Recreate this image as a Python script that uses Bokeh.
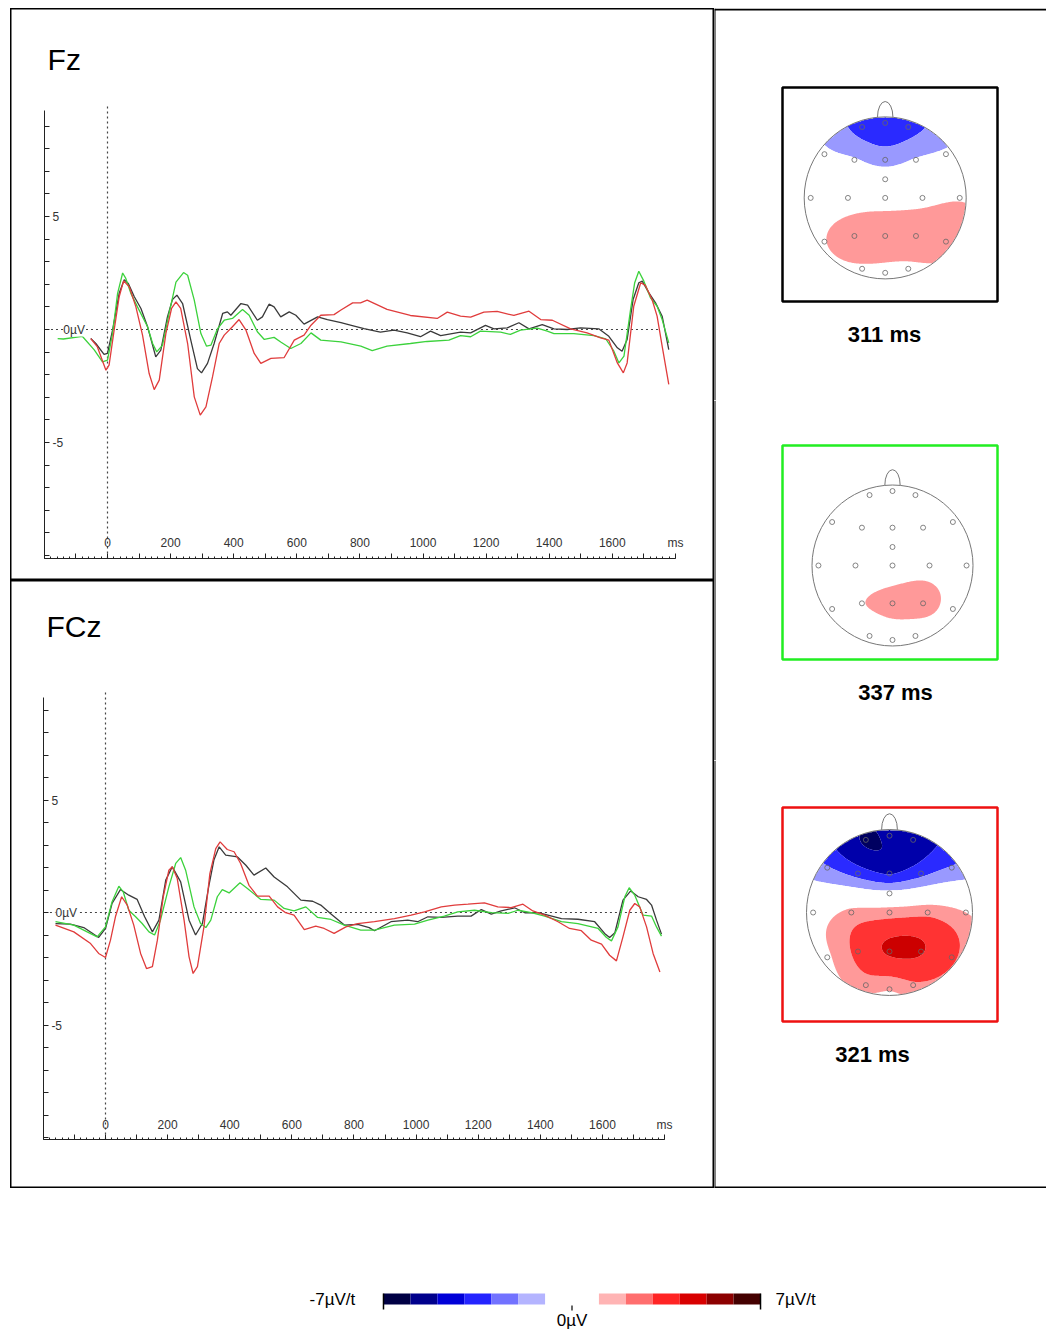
import numpy as np
from bokeh.plotting import figure
from bokeh.models import LinearAxis, FixedTicker, Range1d, Label, Span, Spacer
from bokeh.layouts import column, row
from bokeh.embed import file_html
from bokeh.resources import INLINE
from bokeh.core.properties import value

FONT = "Liberation Sans"

# ---------------- ERP data (time in ms, amplitude in microvolts) ----------------
panel_names = ["Fz", "FCz"]

fz_green_t = [-158, -140, -80, -42, -16, 0, 16, 32, 48, 58, 74, 95, 127, 143, 156, 174, 195, 217, 241, 254, 275,
              296, 314, 328, 349, 370, 396, 428, 449, 475, 497, 528, 549, 581, 613, 645, 676, 740, 803, 839,
              886, 960, 1013, 1082, 1119, 1151, 1182, 1246, 1277, 1309, 1362, 1394, 1415, 1478, 1542, 1579,
              1605, 1621, 1637, 1658, 1671, 1684, 1700, 1721, 1742, 1758, 1779]
fz_green_v = [-0.4, -0.42, -0.3, -0.9, -1.43, -1.36, -0.18, 1.6, 2.5, 2.26, 1.6, 1.0, 0.12, -0.62, -0.99, -0.7, 0.7,
              2.1, 2.52, 2.4, 1.3, -0.18, -0.74, -0.69, 0.04, 0.41, 0.49, 0.88, 0.63, -0.1, -0.44, -0.35, -0.55,
              -0.84, -0.62, -0.15, -0.47, -0.55, -0.74, -0.93,
              -0.74, -0.62, -0.53, -0.47, -0.27, -0.32, -0.07, -0.12, -0.22, -0.03, 0.06, -0.07, -0.18, -0.18,
              -0.27, -0.41, -0.96, -1.48, -1.18, 0.89, 2.07, 2.58, 2.14, 1.4, 1.03, 0.44, -0.59]

fz_black_t = [-53, -37, -11, 0, 16, 37, 53, 66, 85, 106, 127, 153, 169, 190, 206, 220, 238, 264, 285, 298, 317,
              338, 365, 380, 391, 423, 444, 475, 491, 512, 528, 549, 576, 597, 623, 666, 697, 740, 782, 813,
              865, 908, 950, 992, 1024, 1056, 1119, 1151, 1198, 1225, 1267, 1304, 1336, 1378, 1415, 1457, 1499,
              1557, 1589, 1616, 1631, 1647, 1666, 1684, 1695, 1716, 1737, 1758, 1779]
fz_black_v = [-0.4, -0.62, -1.1, -1.06, -0.03, 1.6, 2.2, 2.04, 1.45, 0.93, 0.12, -1.21, -0.91, 0.56, 1.33, 1.52,
              1.15, -0.47, -1.73, -1.92, -1.5, -0.62, 0.71, 0.78, 0.63, 1.15, 1.08, 0.41, 0.56, 1.12, 1.0, 0.56,
              0.78, 0.63, 0.24, 0.56, 0.44, 0.3, 0.15, 0.04,
              -0.12, -0.03, -0.15, -0.32, -0.07, -0.27, -0.12, -0.15, 0.18, 0.03, 0.07, 0.3, 0.03, 0.22, 0.03,
              0.0, 0.07, 0.03, -0.3, -0.81, -0.96, -0.44, 1.33, 2.07, 2.14, 1.62, 1.18, 0.59, -0.89]

fz_red_t = [-53, -32, -5, 5, 21, 37, 51, 69, 90, 111, 132, 148, 164, 185, 203, 217, 232, 254, 275, 294, 312, 333,
            354, 370, 396, 417, 439, 465, 486, 518, 560, 592, 623, 645, 676, 718, 740, 777, 802, 823,
            886, 960, 1045, 1077, 1119, 1151, 1193, 1235, 1288, 1336, 1373, 1410, 1468, 1520, 1563, 1589,
            1616, 1635, 1647, 1668, 1690, 1705, 1726, 1742, 1758, 1779]
fz_red_v = [-0.4, -0.77, -1.8, -1.58, -0.03, 1.45, 2.15, 1.89, 1.0, -0.25, -1.95, -2.66, -2.24, -0.18, 0.93, 1.22,
            0.93, -0.62, -2.98, -3.79, -3.42, -2.09, -0.62, -0.25, 0.12, 0.44, -0.03, -1.06, -1.5, -1.28, -1.24,
            -0.47, -0.25, 0.19, 0.63, 0.66, 0.86, 1.18, 1.18, 1.3,
            0.89, 0.62, 0.49, 0.77, 0.59, 0.55, 0.77, 0.8, 0.62, 0.81, 0.44, 0.41, 0.03, -0.15, -0.37, -0.47,
            -1.48, -1.92, -1.48, 1.03, 2.07, 1.95, 1.33, 0.59, -0.74, -2.43]

fcz_green_t = [-161, -102, -59, -27, 0, 21, 43, 57, 75, 97, 118, 140, 158, 177, 204, 226, 242, 258, 285, 306, 323,
               339, 360, 376, 398, 433, 457, 500, 543, 575, 607, 645, 683, 726, 769, 822,
               866, 930, 995, 1038, 1091, 1134, 1188, 1242, 1296, 1328, 1371, 1414, 1468, 1521, 1586, 1613,
               1629, 1650, 1672, 1686, 1704, 1731, 1758, 1774, 1790]
fcz_green_v = [-0.41, -0.56, -0.86, -1.08, -0.64, 0.47, 1.17, 0.92, 0.1, -0.19, -0.49, -0.86, -1.0, -0.34, 1.14,
               2.18, 2.44, 1.88, 0.25, -0.49, -0.67, -0.34, 0.7, 1.02, 0.87, 1.32, 1.07, 0.58, 0.55, 0.18, 0.07,
               0.25, -0.22, -0.31, -0.56, -0.78,
               -0.78, -0.56, -0.52, -0.34, -0.16, 0.03, 0.1, -0.01, -0.04, 0.1, -0.01, -0.16, -0.41, -0.49, -0.71,
               -1.11, -1.26, -0.64, 0.7, 1.1, 0.77, -0.12, -0.16, -0.64, -1.05]

fcz_black_t = [-161, -113, -70, -22, 0, 21, 48, 75, 102, 126, 151, 172, 194, 215, 242, 269, 290, 312, 333, 349,
               366, 387, 425, 452, 478, 516, 543, 586, 629, 667, 693, 726, 769, 812, 849,
               866, 919, 973, 1005, 1038, 1081, 1134, 1177, 1210, 1242, 1274, 1317, 1350, 1393, 1468, 1521,
               1575, 1607, 1623, 1640, 1666, 1691, 1715, 1742, 1758, 1774, 1790]
fcz_black_v = [-0.49, -0.52, -0.67, -1.11, -0.71, 0.4, 1.02, 0.77, 0.58, -0.19, -0.86, -0.34, 1.44, 2.03, 1.36,
               -0.34, -1.0, -0.49, 1.21, 2.33, 2.92, 2.55, 2.47, 2.1, 1.66, 1.98, 1.58, 1.14, 0.55, 0.5, 0.33,
               -0.07, -0.56, -0.53, -0.67,
               -0.81, -0.41, -0.34, -0.41, -0.19, -0.22, -0.16, -0.16, 0.13, -0.07, 0.07, 0.21, -0.01, -0.01,
               -0.27, -0.3, -0.41, -0.93, -1.11, -0.9, 0.55, 0.96, 0.7, 0.58, 0.33, -0.34, -0.96]

fcz_red_t = [-161, -102, -48, -22, 0, 16, 32, 52, 70, 91, 113, 132, 151, 167, 186, 204, 215, 231, 253, 269, 282,
             296, 317, 336, 355, 369, 392, 414, 435, 462, 489, 527, 554, 580, 607, 640, 677, 704, 736, 774, 812,
             866, 930, 984, 1027, 1081, 1124, 1167, 1220, 1263, 1306, 1344, 1376, 1414, 1457, 1494, 1532, 1564,
             1597, 1623, 1645, 1666, 1688, 1704, 1720, 1742, 1763, 1785]
fcz_red_v = [-0.56, -0.86, -1.38, -1.82, -2.0, -1.23, -0.19, 0.7, 0.33, -0.56, -1.82, -2.49, -2.41, -1.23, 0.7,
             1.88, 2.03, 1.51, -0.34, -1.97, -2.71, -2.41, -0.64, 1.73, 2.84, 3.14, 2.8, 2.7, 2.18, 1.21, 0.73,
             0.73, 0.25, -0.01, -0.12, -0.76, -0.61, -0.71, -0.93, -0.64, -0.49,
             -0.41, -0.27, -0.12, 0.03, 0.25, 0.33, 0.37, 0.43, 0.25, 0.22, 0.37, 0.07, -0.12, -0.41, -0.71,
             -0.81, -1.23, -1.41, -1.9, -2.15, -1.08, 0.1, 0.4, 0.25, -0.64, -1.82, -2.64]

series_colors = {"black": "#3a3a3a", "green": "#3cd23c", "red": "#e03c3c"}

x_ticks = list(range(-200, 1801, 100))
x_minor = list(range(-200, 1801, 20))
x_labels = {t: (str(t) if (t >= 0 and t <= 1600 and t % 200 == 0) else "") for t in x_ticks}
x_labels[1800] = "ms"
y_ticks = list(range(-10, 10))
y_labels = {v: "" for v in y_ticks}
y_labels[5] = "5"
y_labels[-5] = "-5"

# ---------------- Topographic maps ----------------
elec_names = ["Fp1", "Fpz", "Fp2", "F7", "F3", "Fz", "F4", "F8", "FCz", "T7", "C3", "Cz", "C4", "T8",
              "P7", "P3", "Pz", "P4", "P8", "O1", "Oz", "O2"]
elec_x = [-0.285, 0, 0.285, -0.75, -0.38, 0, 0.38, 0.75, 0, -0.92, -0.46, 0, 0.46, 0.92,
          -0.75, -0.38, 0, 0.38, 0.75, -0.285, 0, 0.285]
elec_y = [0.875, 0.925, 0.875, 0.54, 0.47, 0.47, 0.47, 0.54, 0.23, 0, 0, 0, 0, 0,
          -0.54, -0.47, -0.47, -0.47, -0.54, -0.875, -0.925, -0.875]

map_labels = ["311 ms", "337 ms", "321 ms"]
map_box_colors = ["black", "#22ee22", "#ee1111"]
map_values = [
    [-2.4, -2.7, -2.4, -0.8, -0.9, -1.4, -0.9, -0.8, -0.3, 0.1, 0.3, 0.5, 0.6, 0.9,
     0.95, 1.6, 1.5, 1.6, 1.6, 0.8, 0.6, 0.7],
    [0.1, 0.0, 0.1, 0.0, 0.0, -0.1, 0.0, 0.0, 0.0, 0.0, 0.2, 0.3, 0.6, 0.3,
     0.3, 0.95, 1.3, 1.35, 0.7, 0.3, 0.4, 0.4],
    [-4.1, -3.8, -3.5, -1.9, -2.4, -3.1, -2.3, -1.9, -0.6, 0.3, 1.3, 1.5, 1.7, 1.0,
     0.8, 2.3, 3.1, 3.05, 2.2, 1.5, 1.1, 1.8],
]
map_levels = [-10, -4, -3, -2, -1, 1, 2, 3, 4, 10]
map_colors = ["#000060", "#0000aa", "#2a2aff", "#9999ff", "#ffffff", "#ff9999", "#ff3333", "#cc0000", "#600000"]

# colour scale
cbar_blue_edges = [-7, -6, -5, -4, -3, -2, -1]
cbar_blue_colors = ["#000044", "#00008c", "#0000d8", "#2424ff", "#7272ff", "#b4b4ff"]
cbar_red_edges = [1, 2, 3, 4, 5, 6, 7]
cbar_red_colors = ["#ffb4b4", "#ff6e6e", "#ff2424", "#d80000", "#8c0000", "#440000"]
cbar_end_labels = ["-7µV/t", "7µV/t"]
cbar_mid_label = "0µV"


def erp_panel(name, width, height, t0_px, px_ms, v0_px, px_uv, data, ybounds, vtop, label_t, title_pos):
    xr = Range1d(-t0_px / px_ms, (width - t0_px) / px_ms)
    yr = Range1d(-(height - v0_px) / px_uv, v0_px / px_uv)
    p = figure(width=width, height=height, x_range=xr, y_range=yr, output_backend="svg",
               toolbar_location=None, min_border=0, x_axis_type=None, y_axis_type=None)
    p.outline_line_color = "black"
    p.outline_line_width = 2
    p.background_fill_color = "white"
    p.border_fill_color = "white"

    yax = LinearAxis(fixed_location=-200, bounds=ybounds,
                     ticker=FixedTicker(ticks=y_ticks, minor_ticks=[]),
                     major_label_overrides=y_labels)
    yax.major_tick_out = 5
    yax.major_tick_in = 0
    yax.major_label_standoff = 3
    yax.axis_line_color = "#222222"
    yax.major_tick_line_color = "#222222"
    yax.major_label_text_font = FONT
    yax.major_label_text_font_size = "12px"
    yax.major_label_text_color = "#333333"
    p.add_layout(yax, "right")

    xax = LinearAxis(fixed_location=ybounds[0], bounds=(-200, 1800),
                     ticker=FixedTicker(ticks=x_ticks, minor_ticks=x_minor),
                     major_label_overrides=x_labels)
    xax.major_tick_out = 5
    xax.major_tick_in = 0
    xax.minor_tick_out = 2
    xax.minor_tick_in = 0
    xax.major_label_standoff = 3
    xax.axis_line_color = "#222222"
    xax.major_tick_line_color = "#222222"
    xax.minor_tick_line_color = "#222222"
    xax.major_label_text_font = FONT
    xax.major_label_text_font_size = "12px"
    xax.major_label_text_color = "#333333"
    p.add_layout(xax, "above")

    # reference lines
    p.segment(x0=[-195], y0=[0], x1=[1750], y1=[0], line_color="#444444", line_width=1.2, line_dash="2 3")
    p.segment(x0=[0], y0=[ybounds[0]], x1=[0], y1=[vtop], line_color="#444444", line_width=1.2, line_dash="2 3")

    for key in ["black", "green", "red"]:
        t, v = data[key]
        p.line(t, v, line_color=series_colors[key], line_width=1.3)

    p.add_layout(Label(x=label_t, y=0, text="0µV", text_baseline="middle", text_font=FONT,
                       text_font_size="12px", text_color="#333333", background_fill_color="white"))
    p.text(x=[title_pos[0]], y=[title_pos[1]], text=[name], text_font=value(FONT), text_font_size="30px",
           text_baseline="middle", text_color="black")
    return p


# page coordinates: the left column starts at x=10, the figures at y=8
p_fz = erp_panel(panel_names[0], 704, 572, 97, 0.3155, 321, 22.6,
                 {"black": (fz_black_t, fz_black_v), "green": (fz_green_t, fz_green_v),
                  "red": (fz_red_t, fz_red_v)},
                 (-10.13, 9.7), 10.0, -140, (-190, 11.95))
p_fcz = erp_panel(panel_names[1], 704, 608, 95, 0.3106, 332, 22.5,
                  {"black": (fcz_black_t, fcz_black_v), "green": (fcz_green_t, fcz_green_v),
                   "red": (fcz_red_t, fcz_red_v)},
                  (-10.09, 9.56), 9.87, -161, (-190, 12.72))


def green_fn(r):
    out = np.zeros_like(r)
    m = r > 0
    out[m] = r[m] ** 2 * (np.log(r[m]) - 1.0)
    return out


def spline_field(vals, X, Y):
    ex = np.array(elec_x)
    ey = np.array(elec_y)
    D = np.sqrt((ex[:, None] - ex[None, :]) ** 2 + (ey[:, None] - ey[None, :]) ** 2)
    w = np.linalg.solve(green_fn(D), np.array(vals, dtype=float))
    R = np.sqrt((X[..., None] - ex) ** 2 + (Y[..., None] - ey) ** 2)
    return (green_fn(R) * w).sum(-1)


RIGHT_W = 332


def topo_fig(idx, top_px, height, cx, cy, r, box, lab, borders):
    W = RIGHT_W
    fx = cx - 714
    fy = cy - top_px
    xr = Range1d(-fx / r, (W - fx) / r)
    yr = Range1d(-(height - fy) / r, fy / r)
    p = figure(width=W, height=height, x_range=xr, y_range=yr, output_backend="svg",
               toolbar_location=None, min_border=0, x_axis_type=None, y_axis_type=None)
    p.outline_line_color = None
    p.background_fill_color = "white"
    p.border_fill_color = "white"

    # nose and head
    p.ellipse(x=[0], y=[1.0], width=0.19, height=0.38, fill_color=None, line_color="#777777", line_width=1)
    p.ellipse(x=[0], y=[0], width=2, height=2, fill_color="white", line_color=None)

    g = np.linspace(-1, 1, 181)
    X, Y = np.meshgrid(g, g)
    Z = spline_field(map_values[idx], X, Y)
    Z[X ** 2 + Y ** 2 > 1.0] = np.nan
    p.contour(g, g, Z, levels=map_levels, fill_color=map_colors)

    p.ellipse(x=[0], y=[0], width=2, height=2, fill_color=None, line_color="#777777", line_width=1)
    p.scatter(elec_x, elec_y, marker="circle", size=5, fill_color=None, line_color="#666666", line_width=0.8)

    l, t, rr, b = box
    p.quad(left=[(l - cx) / r], right=[(rr - cx) / r], top=[(cy - t) / r], bottom=[(cy - b) / r],
           fill_color=None, line_color=map_box_colors[idx], line_width=2.5)
    p.text(x=[(lab[0] - cx) / r], y=[(cy - lab[1]) / r], text=[map_labels[idx]], text_font=value(FONT),
           text_font_style="bold", text_font_size="22px", text_align="center", text_baseline="middle",
           text_color="black")

    p.add_layout(Span(location=xr.start, dimension="height", line_color="black", line_width=2))
    if "top" in borders:
        p.add_layout(Span(location=yr.end - 1.0 / r, dimension="width", line_color="black", line_width=2))
    if "bottom" in borders:
        p.add_layout(Span(location=yr.start + 1.0 / r, dimension="width", line_color="black", line_width=2))
    return p


m1 = topo_fig(0, 8, 392, 884.7, 197.4, 81, (782, 87, 997, 301), (884, 334), ["top"])
m2 = topo_fig(1, 400, 360, 892, 565, 80.5, (782, 445, 997, 659), (895, 692), [])
m3 = topo_fig(2, 760, 428, 889, 912, 83, (782, 807, 997, 1021), (872, 1054), ["bottom"])

# colour bar figure (page y 1188..1330)
PX_UV = 26.93
MID = 571.5
CB_H = 142
pc = figure(width=1046, height=CB_H, x_range=Range1d((0 - MID) / PX_UV, (1046 - MID) / PX_UV),
            y_range=Range1d(CB_H, 0), output_backend="svg", toolbar_location=None, min_border=0,
            x_axis_type=None, y_axis_type=None)
pc.outline_line_color = None
pc.background_fill_color = "white"
pc.border_fill_color = "white"
pc.quad(left=cbar_blue_edges[:-1], right=cbar_blue_edges[1:], top=105, bottom=116,
        fill_color=cbar_blue_colors, line_color=None)
pc.quad(left=cbar_red_edges[:-1], right=cbar_red_edges[1:], top=105, bottom=116,
        fill_color=cbar_red_colors, line_color=None)
ends = [cbar_blue_edges[0], cbar_red_edges[-1]]
pc.segment(x0=ends, y0=[105, 105], x1=ends, y1=[121, 121], line_color="black", line_width=1.5)
pc.segment(x0=[0], y0=[117], x1=[0], y1=[122], line_color="black", line_width=1.2)
pc.text(x=[-8.05], y=[111], text=[cbar_end_labels[0]], text_font=value(FONT), text_font_size="17px",
        text_align="right", text_baseline="middle", text_color="black")
pc.text(x=[7.56], y=[111], text=[cbar_end_labels[1]], text_font=value(FONT), text_font_size="17px",
        text_align="left", text_baseline="middle", text_color="black")
pc.text(x=[0], y=[132], text=[cbar_mid_label], text_font=value(FONT), text_font_size="17px",
        text_align="center", text_baseline="middle", text_color="black")

left_col = column(p_fz, p_fcz)
right_col = column(m1, m2, m3)
layout = column(Spacer(width=1046, height=8),
                row(Spacer(width=10, height=1180), left_col, right_col),
                pc)
open("out.html", "w").write(file_html(layout, INLINE))
